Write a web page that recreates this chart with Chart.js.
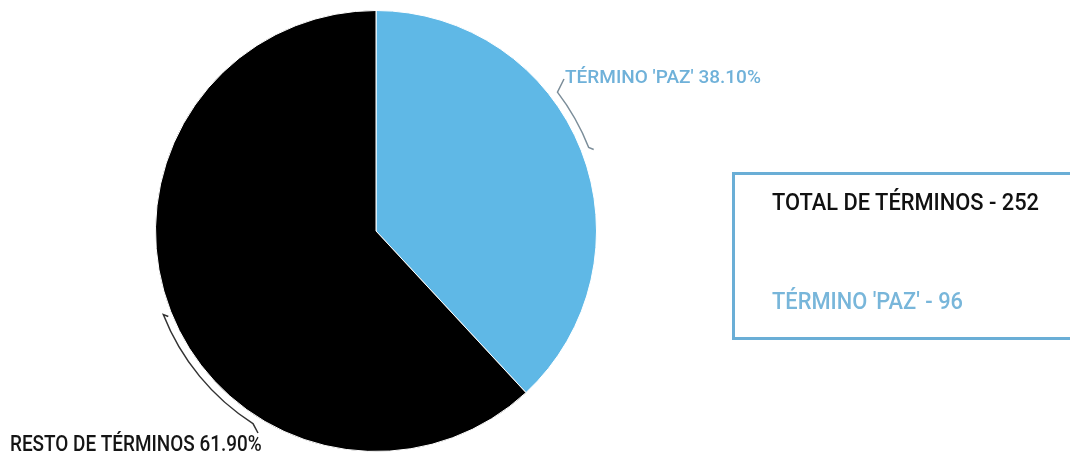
<!DOCTYPE html>
<html>
<head>
<meta charset="utf-8">
<script src="https://cdn.jsdelivr.net/npm/chart.js@4/dist/chart.umd.min.js"></script>
<style>
  html, body { margin: 0; padding: 0; background: #fff; overflow: hidden; }
  #wrap { position: relative; width: 1070px; height: 464px; }
  #myChart { position: absolute; left: 0; top: 0; }
  #summary {
    position: absolute; left: 732px; top: 172px; width: 360px; height: 168px;
    border: 3px solid #6aaed6; box-sizing: border-box;
    font-family: Roboto, sans-serif; font-weight: 500; font-size: 24px;
  }
  #summary div {
    position: absolute; left: 37px; white-space: nowrap; line-height: 1;
    transform: scaleX(0.91); transform-origin: left top;
  }
  #total { top: 15px; color: #111; }
  #paz { top: 114px; color: #78b6da; }
</style>
</head>
<body>
<div id="wrap">
  <canvas id="myChart" width="1070" height="464"></canvas>
  <div id="summary"><div id="total"></div><div id="paz"></div></div>
</div>
<script>
// term counts
const labels = ["TÉRMINO 'PAZ'", 'RESTO DE TÉRMINOS'];
const counts = [96, 156];
const sliceColors = ['#5fb8e6', '#000000'];

const total = counts.reduce((a, b) => a + b, 0);
document.getElementById('total').innerText = 'TOTAL DE TÉRMINOS - ' + total;
document.getElementById('paz').innerText = labels[0] + ' - ' + counts[0];

// bracket style callouts drawn next to each slice
const callouts = {
  id: 'callouts',
  afterDatasetsDraw(chart, args, opts) {
    const ctx = chart.ctx;
    const meta = chart.getDatasetMeta(0);
    meta.data.forEach((arc, i) => {
      const o = opts.items[i];
      const p = arc.getProps(['x', 'y', 'startAngle', 'endAngle', 'outerRadius'], true);
      const mid = (p.startAngle + p.endAngle) / 2;
      const r = p.outerRadius + 8;
      const end = mid + o.span * Math.PI / 180;
      const pct = (counts[i] / total * 100).toFixed(2) + '%';

      ctx.save();
      ctx.strokeStyle = o.line;
      ctx.lineWidth = 1.5;
      ctx.beginPath();
      // small tick at the free end
      ctx.moveTo(p.x + r * Math.cos(mid) + 5, p.y + r * Math.sin(mid) + 2);
      ctx.lineTo(p.x + r * Math.cos(mid), p.y + r * Math.sin(mid));
      ctx.arc(p.x, p.y, r, mid, end, true);
      ctx.lineTo(o.hook[0], o.hook[1]);
      ctx.stroke();

      ctx.fillStyle = o.color;
      ctx.font = o.font;
      ctx.textBaseline = 'alphabetic';
      ctx.translate(o.at[0], o.at[1]);
      ctx.scale(o.squeeze, 1);
      ctx.fillText(labels[i] + ' ' + pct, 0, 0);
      ctx.restore();
    });
  }
};

new Chart(document.getElementById('myChart'), {
  type: 'pie',
  data: {
    labels: labels,
    datasets: [{
      data: counts,
      backgroundColor: sliceColors,
      borderColor: '#ffffff',
      borderWidth: 1
    }]
  },
  options: {
    responsive: false,
    animation: false,
    layout: { padding: { left: 155, right: 473, top: 10, bottom: 12 } },
    plugins: {
      legend: { display: false },
      tooltip: { enabled: false },
      callouts: {
        items: [
          { span: -16, hook: [564, 79], at: [565, 83], squeeze: 1, color: '#6fb1d9', line: '#7b8d99', font: '500 19px Roboto' },
          { span: -36, hook: [258, 433], at: [10, 451], squeeze: 0.86, color: '#151515', line: '#333333', font: '500 22px Roboto' }
        ]
      }
    }
  },
  plugins: [callouts]
});
</script>
</body>
</html>
